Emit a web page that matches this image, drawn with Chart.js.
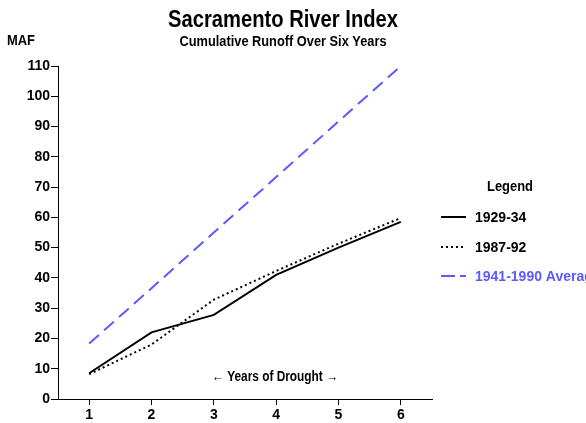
<!DOCTYPE html>
<html><head><meta charset="utf-8">
<script src="https://cdn.jsdelivr.net/npm/chart.js@4/dist/chart.umd.min.js"></script>
<style>html,body{margin:0;padding:0;background:#fff;}canvas{display:block}</style>
</head><body>
<canvas id="c" width="586" height="423"></canvas>
<script>
const years = ['1','2','3','4','5','6'];
const runoff1929 = [8.5, 22.0, 27.8, 41.0, 50.0, 58.5];
const runoff1987 = [8.2, 18.0, 32.8, 42.3, 51.3, 59.8];
const runoffAvg  = [18.3, 36.6, 55.0, 73.3, 91.7, 110.0];
const seriesNames = ['1929-34', '1987-92', '1941-1990 Average'];
const titleText = 'Sacramento River Index';
const subtitleText = 'Cumulative Runoff Over Six Years';
const yUnit = 'MAF';
const xNote = '\u2190 Years of Drought \u2192';
const legendTitle = 'Legend';

const FONT = "'Liberation Sans', Arial, sans-serif";
const BLUE = '#5a5aff';
Chart.defaults.font.family = FONT;

function condensed(ctx, text, x, y, size, width, align, color) {
  ctx.save();
  ctx.font = 'bold ' + size + 'px ' + FONT;
  ctx.fillStyle = color || '#000';
  ctx.textBaseline = 'alphabetic';
  const w = ctx.measureText(text).width;
  const s = width ? width / w : 1;
  let x0 = x;
  if (align === 'center') x0 = x - w * s / 2;
  ctx.translate(x0, y);
  ctx.scale(s, 1);
  ctx.textAlign = 'left';
  ctx.fillText(text, 0, 0);
  ctx.restore();
}

const textPlugin = {
  id: 'texts',
  afterDraw(chart) {
    const ctx = chart.ctx;
    condensed(ctx, titleText, 283, 27, 24, 230, 'center');
    condensed(ctx, subtitleText, 283, 46, 15, 207, 'center');
    condensed(ctx, yUnit, 7, 45, 14, 28, 'left');
    condensed(ctx, xNote, 275, 381, 14, 126, 'center');
    // legend
    condensed(ctx, legendTitle, 510, 191, 14, 46, 'center');
    const items = [
      {y: 217, color: '#000', dash: [], text: seriesNames[0], tc: '#000'},
      {y: 247, color: '#000', dash: [2, 3], text: seriesNames[1], tc: '#000'},
      {y: 276, color: BLUE, dash: [14, 5], text: seriesNames[2], tc: BLUE}
    ];
    items.forEach(it => {
      ctx.save();
      ctx.strokeStyle = it.color;
      ctx.lineWidth = 2;
      ctx.setLineDash(it.dash);
      ctx.beginPath();
      ctx.moveTo(441, it.y);
      ctx.lineTo(466, it.y);
      ctx.stroke();
      ctx.restore();
      condensed(ctx, it.text, 475, it.y + 5, 14, null, 'left', it.tc);
    });
  }
};

new Chart(document.getElementById('c'), {
  type: 'line',
  data: {
    labels: years,
    datasets: [
      {label: seriesNames[0], data: runoff1929, borderColor: '#000', borderWidth: 2, pointRadius: 0, tension: 0, fill: false},
      {label: seriesNames[1], data: runoff1987, borderColor: '#000', borderWidth: 2, borderDash: [2, 3], pointRadius: 0, tension: 0, fill: false},
      {label: seriesNames[2], data: runoffAvg, borderColor: BLUE, borderWidth: 2, borderDash: [13, 7], pointRadius: 0, tension: 0, fill: false}
    ]
  },
  options: {
    responsive: false,
    animation: false,
    devicePixelRatio: 1,
    layout: {padding: {left: 0, right: 154, top: 66, bottom: 0}},
    plugins: {legend: {display: false}, title: {display: false}, tooltip: {enabled: false}},
    scales: {
      x: {
        type: 'category',
        offset: true,
        grid: {display: true, drawOnChartArea: false, drawTicks: true, tickLength: 6, color: '#000', offset: false},
        border: {display: true, color: '#000', width: 1},
        ticks: {color: '#000', font: {size: 14, weight: 'bold'}, padding: 2, maxRotation: 0},
        afterFit(s) { s.height = 24; }
      },
      y: {
        min: 0, max: 110,
        grid: {display: true, drawOnChartArea: false, drawTicks: true, tickLength: 7, color: '#000'},
        border: {display: true, color: '#000', width: 1},
        ticks: {stepSize: 10, color: '#000', font: {size: 14, weight: 'bold'}, padding: 1},
        afterFit(s) { s.width = 58; }
      }
    }
  },
  plugins: [textPlugin]
});
</script>
</body></html>
